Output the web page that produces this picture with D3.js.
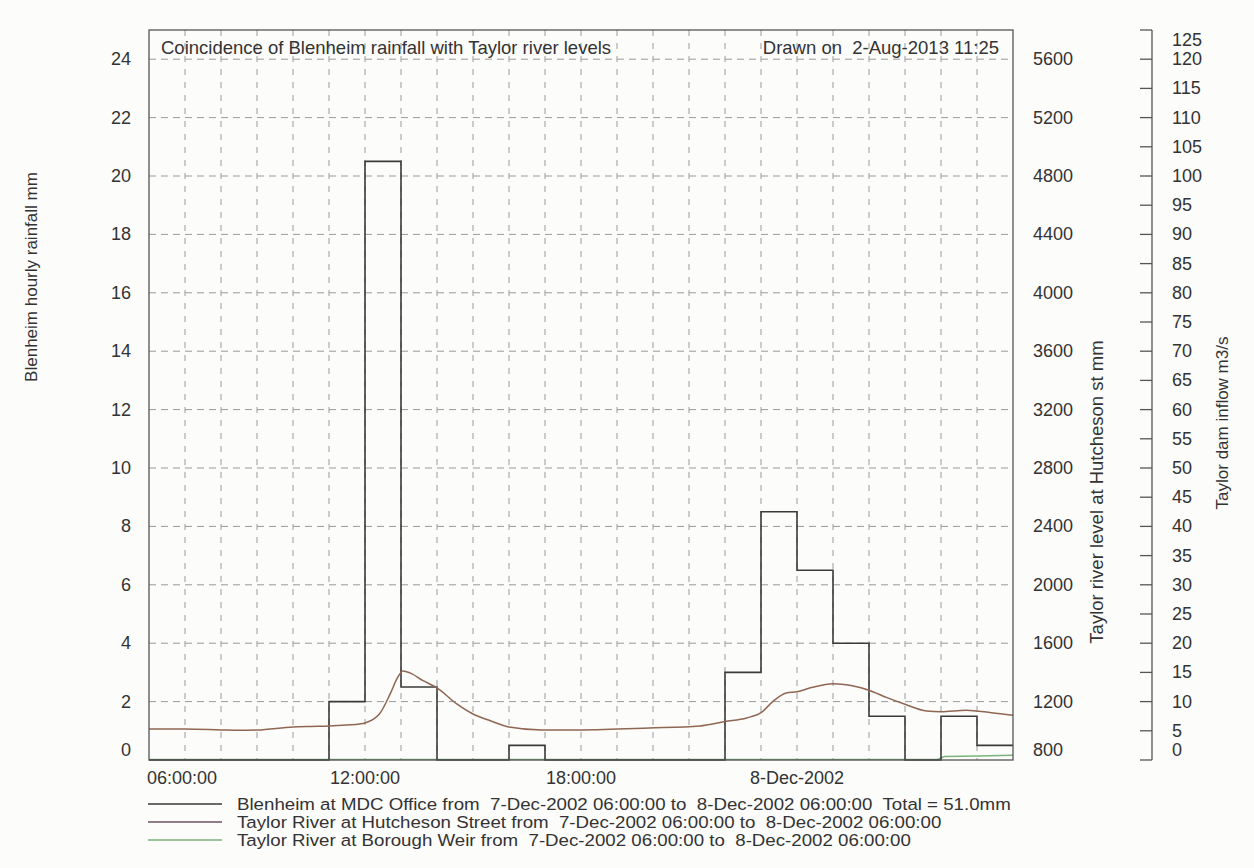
<!DOCTYPE html>
<html lang="en">
<head>
<meta charset="UTF-8">
<script src="https://d3js.org/d3.v7.min.js"></script>
<style>
  body { margin: 0; background: #fcfcfb; }
  text { font-family: "Liberation Sans", Arial, sans-serif; fill: #333; }
</style>
</head>
<body>
<div id="chart"></div>
<script>
// hourly rainfall, each value is the hour starting at 06:00 + i
var rainfallMm = [0, 0, 0, 0, 0, 2, 20.5, 2.5, 0, 0, 0.5, 0, 0, 0, 0, 0, 3, 8.5, 6.5, 4, 1.5, 0, 1.5, 0.5];
// Taylor River at Hutcheson St (hours after 06:00, level mm)
var levelHours = [0, 1, 2, 2.5, 3, 4, 4.5, 5, 5.5, 5.85, 6, 6.4, 6.7, 6.9, 7.05, 7.25, 7.6, 8, 8.55, 9, 9.5, 10, 10.9, 12, 13.9, 15.3, 16, 16.6, 17, 17.35, 17.7, 18, 18.4, 19, 19.5, 20, 20.5, 21, 21.6, 22, 22.7, 23.4, 24];
var levelMm = [1012, 1012, 1006, 1003, 1005, 1026, 1030, 1033, 1040, 1047, 1054, 1115, 1253, 1362, 1410, 1397, 1345, 1294, 1184, 1115, 1067, 1026, 1006, 1006, 1019, 1033, 1063, 1088, 1124, 1205, 1259, 1268, 1296, 1323, 1310, 1278, 1227, 1182, 1136, 1131, 1141, 1124, 1106];
// Taylor River at Borough Weir inflow (hours after 06:00, m3/s)
var inflowHours = [0, 21.9, 22.1, 23, 24];
var inflowM3s = [0.1, 0.1, 0.6, 0.7, 0.8];

var xTickHours = [0, 6, 12, 18];
var xTickLabels = ["06:00:00", "12:00:00", "18:00:00", "8-Dec-2002"];
var rainTicks = d3.range(0, 25, 2);
var levelTicks = d3.range(800, 5601, 400);
var inflowTicks = d3.range(0, 126, 5);

var legendLabels = [
  "Blenheim at MDC Office from  7-Dec-2002 06:00:00 to  8-Dec-2002 06:00:00  Total = 51.0mm",
  "Taylor River at Hutcheson Street from  7-Dec-2002 06:00:00 to  8-Dec-2002 06:00:00",
  "Taylor River at Borough Weir from  7-Dec-2002 06:00:00 to  8-Dec-2002 06:00:00"
];
var legendColors = ["#3a3a3a", "#6e5060", "#7bb27b"];

var W = 1254, H = 868;
var pL = 149, pR = 1013, pT = 30, pB = 760;

var svg = d3.select("#chart").append("svg")
    .attr("width", W)
    .attr("height", H);

var x = d3.scaleLinear().domain([0, 24]).range([pL, pR]);
var yRain = d3.scaleLinear().domain([0, 25]).range([pB, pT]);
var yLevel = d3.scaleLinear().domain([800, 5800]).range([pB, pT]);
var yInflow = d3.scaleLinear().domain([0, 125]).range([pB, pT]);

// grid
svg.append("g").selectAll("line").data(d3.range(2, 25, 2)).enter().append("line")
    .attr("x1", pL).attr("x2", pR)
    .attr("y1", d => yRain(d)).attr("y2", d => yRain(d))
    .attr("stroke", "#9a9a9a").attr("stroke-width", 1)
    .attr("stroke-dasharray", "7,5");
svg.append("g").selectAll("line").data(d3.range(1, 24)).enter().append("line")
    .attr("x1", d => x(d)).attr("x2", d => x(d))
    .attr("y1", pT).attr("y2", pB)
    .attr("stroke", "#9a9a9a").attr("stroke-width", 1)
    .attr("stroke-dasharray", "6,7");

// inflow line (green)
var inflowPts = inflowHours.map((h, i) => [h, inflowM3s[i]]);
svg.append("path").datum(inflowPts)
    .attr("fill", "none").attr("stroke", "#7bb27b").attr("stroke-width", 1.5)
    .attr("d", d3.line().x(d => x(d[0])).y(d => yInflow(d[1])));

// rainfall step outline
var rainPts = rainfallMm.map((v, i) => [i, v]);
rainPts.unshift([0, 0]);
rainPts.push([24, rainfallMm[rainfallMm.length - 1]]);
svg.append("path").datum(rainPts)
    .attr("fill", "none").attr("stroke", "#3a3a3a").attr("stroke-width", 1.6)
    .attr("d", d3.line().x(d => x(d[0])).y(d => yRain(d[1])).curve(d3.curveStepAfter));

// river level line (brown)
var levelPts = levelHours.map((h, i) => [h, levelMm[i]]);
svg.append("path").datum(levelPts)
    .attr("fill", "none").attr("stroke", "#8f6652").attr("stroke-width", 1.5)
    .attr("d", d3.line().x(d => x(d[0])).y(d => yLevel(d[1])).curve(d3.curveMonotoneX));

// frame
svg.append("rect")
    .attr("x", pL).attr("y", pT)
    .attr("width", pR - pL).attr("height", pB - pT)
    .attr("fill", "none").attr("stroke", "#555").attr("stroke-width", 1.3);

// left axis labels
svg.append("g").selectAll("text").data(rainTicks).enter().append("text")
    .attr("x", 131)
    .attr("y", d => yRain(d) + 6 - (d === 0 ? 10 : 0))
    .attr("text-anchor", "end")
    .style("font-size", "18px")
    .text(d => d);

// right level labels
svg.append("g").selectAll("text").data(levelTicks).enter().append("text")
    .attr("x", 1033)
    .attr("y", d => yLevel(d) + 6 - (d === 800 ? 10 : 0))
    .style("font-size", "18px")
    .text(d => d);

// inflow axis
var axX = 1152;
svg.append("line")
    .attr("x1", axX).attr("x2", axX).attr("y1", pT).attr("y2", pB)
    .attr("stroke", "#555").attr("stroke-width", 1.3);
svg.append("g").selectAll("line").data(inflowTicks).enter().append("line")
    .attr("x1", axX - 12).attr("x2", axX)
    .attr("y1", d => yInflow(d)).attr("y2", d => yInflow(d))
    .attr("stroke", "#555").attr("stroke-width", 1.3);
svg.append("g").selectAll("text").data(inflowTicks).enter().append("text")
    .attr("x", 1172)
    .attr("y", d => yInflow(d) + 6 - (d === 0 ? 10 : 0) + (d === 125 ? 10 : 0))
    .style("font-size", "18px")
    .text(d => d);

// x labels
svg.append("g").selectAll("text").data(xTickHours).enter().append("text")
    .attr("x", (d, i) => i === 0 ? pL - 2 : x(d))
    .attr("y", 784)
    .attr("text-anchor", (d, i) => i === 0 ? "start" : "middle")
    .style("font-size", "18px")
    .text((d, i) => xTickLabels[i]);

// axis titles
svg.append("text")
    .attr("transform", "translate(37,277) rotate(-90)")
    .attr("text-anchor", "middle")
    .style("font-size", "17px")
    .text("Blenheim hourly rainfall mm");
svg.append("text")
    .attr("transform", "translate(1103,492) rotate(-90)")
    .attr("text-anchor", "middle")
    .style("font-size", "18.5px")
    .text("Taylor river level at Hutcheson st mm");
svg.append("text")
    .attr("transform", "translate(1228,423) rotate(-90)")
    .attr("text-anchor", "middle")
    .style("font-size", "17px")
    .text("Taylor dam inflow m3/s");

// titles inside the plot
svg.append("text")
    .attr("x", 161).attr("y", 54)
    .style("font-size", "18.5px")
    .text("Coincidence of Blenheim rainfall with Taylor river levels");
svg.append("text")
    .attr("x", 999).attr("y", 54)
    .attr("text-anchor", "end")
    .style("font-size", "18.5px")
    .style("white-space", "pre")
    .text("Drawn on  2-Aug-2013 11:25");

// legend
var leg = svg.append("g").selectAll("g").data(legendLabels).enter().append("g")
    .attr("transform", (d, i) => "translate(0," + (804 + i * 18) + ")");
leg.append("line")
    .attr("x1", 148).attr("x2", 222)
    .attr("stroke", (d, i) => legendColors[i]).attr("stroke-width", 1.3);
leg.append("text")
    .attr("transform", "translate(237,6) scale(1.1,1)")
    .style("font-size", "17px")
    .style("white-space", "pre")
    .text(d => d);
</script>
</body>
</html>
